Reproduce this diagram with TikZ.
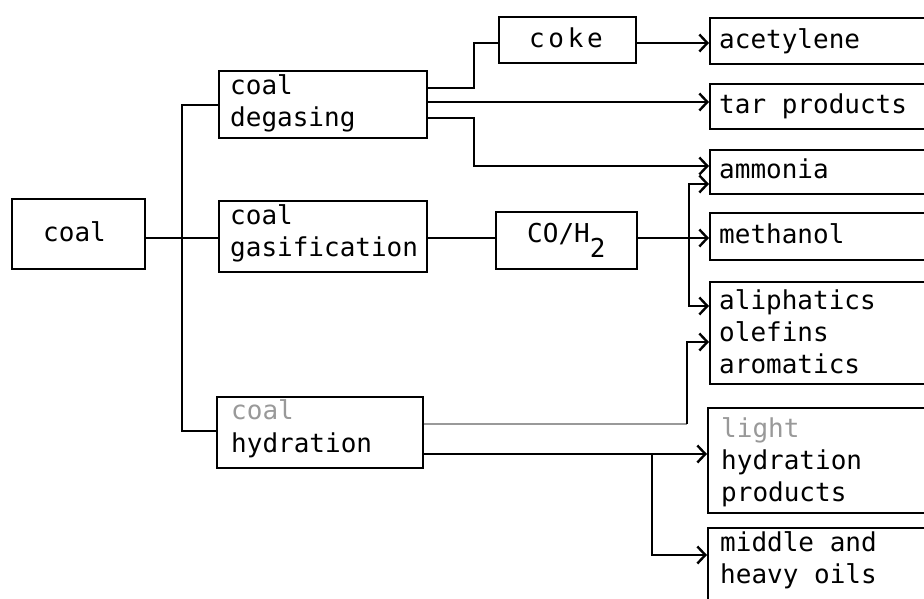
\documentclass[tikz,border=0pt]{standalone}
\usepackage{fontspec}
\setmonofont{DejaVu Sans Mono}
\usetikzlibrary{arrows.meta}
\begin{document}
\begin{tikzpicture}[x=1pt,y=-1pt,
  box/.style={draw, line width=1.6pt, inner sep=0pt, anchor=north west},
  lbl/.style={font=\ttfamily\fontsize{26}{32}\selectfont, anchor=base west, inner sep=0pt},
  wire/.style={line width=1.6pt},
  arr/.style={wire, -{Straight Barb[length=8pt,width=17pt,line width=2.4pt]}},
  faint/.style={black!40}]
\clip (0,0) rectangle (924,598);
\fill[white] (0,0) rectangle (924,598);
% boxes
\node[box, minimum width=133pt, minimum height=70pt] (coal) at (11,198) {};
\node[box, minimum width=208pt, minimum height=67pt] (deg) at (218,70) {};
\node[box, minimum width=208pt, minimum height=71pt] (gas) at (218,200) {};
\node[box, minimum width=206pt, minimum height=71pt] (hyd) at (216,396) {};
\node[box, minimum width=137pt, minimum height=46pt] (coke) at (498,16) {};
\node[box, minimum width=141pt, minimum height=57pt] (coh) at (495,211) {};
\node[box, minimum width=260pt, minimum height=46pt] (ace) at (709,17) {};
\node[box, minimum width=260pt, minimum height=45pt] (tar) at (709,83) {};
\node[box, minimum width=260pt, minimum height=44pt] (amm) at (709,149) {};
\node[box, minimum width=260pt, minimum height=47pt] (meth) at (709,212) {};
\node[box, minimum width=260pt, minimum height=102pt] (ali) at (709,281) {};
\node[box, minimum width=260pt, minimum height=105pt] (light) at (707,407) {};
\node[box, minimum width=260pt, minimum height=100pt] (mid) at (707,527) {};
% texts
\node[lbl] (tcoal) at (43,241) {coal};
\node[lbl] (tdeg1) at (230,94) {coal};
\node[lbl] (tdeg2) at (230,126) {degasing};
\node[lbl] (tgas1) at (230,224) {coal};
\node[lbl] (tgas2) at (230,256) {gasification};
\node[lbl, faint] (thyd1) at (231,419) {coal};
\node[lbl] (thyd2) at (231,452) {hydration};
\node[lbl] (tcoke) at (529,47) {\addfontfeature{LetterSpace=14}coke};
\node[lbl] (tcoh) at (527,242) {CO/H\raisebox{-15pt}{2}};
\node[lbl] (tace) at (719,48) {acetylene};
\node[lbl] (ttar) at (719,113) {tar products};
\node[lbl] (tamm) at (719,178) {ammonia};
\node[lbl] (tmeth) at (719,243) {methanol};
\node[lbl] (tali1) at (719,309) {aliphatics};
\node[lbl] (tali2) at (719,341) {olefins};
\node[lbl] (tali3) at (719,373) {aromatics};
\node[lbl, faint] (tlight1) at (721,437) {light};
\node[lbl] (tlight2) at (721,469) {hydration};
\node[lbl] (tlight3) at (721,501) {products};
\node[lbl] (tmid1) at (720,551) {middle and};
\node[lbl] (tmid2) at (720,583) {heavy oils};
% connectors
\coordinate (jd) at (182,105);
\coordinate (jh) at (182,431);
\draw[wire] (coal.east |- 0,238) -- (gas.west |- 0,238);
\draw[wire] (deg.west |- jd) -- (jd) -- (jh) -- (hyd.west |- jh);
\draw[wire] (deg.east |- 0,88) -- (474,88) |- (coke.west |- 0,43);
\draw[arr] (coke.east |- 0,43) -- (ace.west |- 0,43);
\draw[arr] (deg.east |- 0,102) -- (tar.west |- 0,102);
\draw[arr] (deg.east |- 0,118) -- (474,118) |- (amm.west |- 0,166);
\draw[wire] (gas.east |- 0,238) -- (coh.west |- 0,238);
\draw[arr] (coh.east |- 0,238) -- (meth.west |- 0,238);
\draw[arr] (689,238) |- (amm.west |- 0,184);
\draw[arr] (689,238) |- (ali.west |- 0,306);
\draw[wire, faint] (hyd.east |- 0,424) -- (687,424);
\draw[arr] (687,424) |- (ali.west |- 0,342);
\draw[arr] (hyd.east |- 0,454) -- (light.west |- 0,454);
\draw[arr] (652,454) |- (mid.west |- 0,555);
\end{tikzpicture}
\end{document}
